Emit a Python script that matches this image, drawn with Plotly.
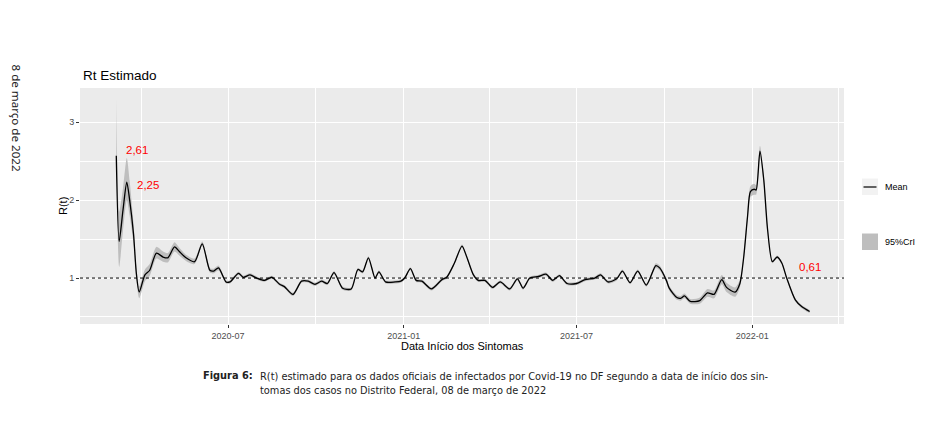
import plotly.graph_objects as go

# ---- data ----
dates = [
    "2020-03-06", "2020-03-09", "2020-03-13", "2020-03-17", "2020-03-20", "2020-03-24",
    "2020-03-27", "2020-03-30", "2020-04-05", "2020-04-10", "2020-04-17", "2020-04-24",
    "2020-04-29", "2020-05-06", "2020-05-11", "2020-05-18", "2020-05-27", "2020-06-04",
    "2020-06-12", "2020-06-16", "2020-06-21", "2020-06-29", "2020-07-03", "2020-07-12",
    "2020-07-17", "2020-07-24", "2020-07-31", "2020-08-08", "2020-08-16", "2020-08-24",
    "2020-08-29", "2020-09-07", "2020-09-16", "2020-09-23", "2020-09-30", "2020-10-07",
    "2020-10-13", "2020-10-20", "2020-10-29", "2020-11-07", "2020-11-14", "2020-11-19",
    "2020-11-25", "2020-12-02", "2020-12-06", "2020-12-13", "2020-12-23", "2020-12-29",
    "2021-01-02", "2021-01-08", "2021-01-14", "2021-01-20", "2021-01-30", "2021-02-10",
    "2021-02-15", "2021-02-23", "2021-03-03", "2021-03-08", "2021-03-15", "2021-03-20",
    "2021-03-27", "2021-04-04", "2021-04-12", "2021-04-22", "2021-04-30", "2021-05-06",
    "2021-05-13", "2021-05-22", "2021-05-30", "2021-06-06", "2021-06-13", "2021-06-21",
    "2021-07-01", "2021-07-10", "2021-07-20", "2021-07-26", "2021-08-03", "2021-08-12",
    "2021-08-18", "2021-08-26", "2021-09-03", "2021-09-12", "2021-09-22", "2021-09-26",
    "2021-10-03", "2021-10-06", "2021-10-14", "2021-10-18", "2021-10-22", "2021-10-28",
    "2021-11-07", "2021-11-15", "2021-11-22", "2021-11-30", "2021-12-05", "2021-12-14",
    "2021-12-19", "2021-12-23", "2021-12-27", "2021-12-30", "2022-01-03", "2022-01-05",
    "2022-01-09", "2022-01-13", "2022-01-17", "2022-01-22", "2022-01-27", "2022-02-01",
    "2022-02-06", "2022-02-15", "2022-02-22", "2022-03-02",
]
rt_mean = [
    2.57, 1.47, 1.87, 2.23, 2.00, 1.57,
    1.06, 0.82, 1.04, 1.10, 1.32, 1.27,
    1.26, 1.40, 1.34, 1.26, 1.21, 1.44,
    1.10, 1.09, 1.13, 0.95, 0.95, 1.06,
    1.01, 1.04, 1.00, 0.97, 1.01, 0.92,
    0.89, 0.79, 0.96, 0.96, 0.92, 0.96,
    0.93, 1.07, 0.87, 0.86, 1.11, 1.08,
    1.26, 1.00, 1.08, 0.95, 0.95, 0.96,
    1.00, 1.12, 0.97, 0.96, 0.86, 0.98,
    1.01, 1.19, 1.41, 1.27, 1.04, 0.97,
    0.97, 0.88, 0.95, 0.86, 0.99, 0.87,
    1.00, 1.02, 1.05, 0.97, 1.03, 0.93,
    0.93, 0.98, 1.00, 1.04, 0.95, 0.99,
    1.09, 0.94, 1.09, 0.91, 1.16, 1.13,
    0.97, 0.87, 0.75, 0.74, 0.77, 0.70,
    0.71, 0.81, 0.79, 0.98, 0.88, 0.82,
    0.93, 1.27, 1.79, 2.11, 2.14, 2.13,
    2.63, 2.26, 1.62, 1.21, 1.27, 1.19,
    1.00, 0.72, 0.63, 0.57,
]
ci_lower = [
    2.50, 1.14, 1.60, 2.00, 1.80, 1.45,
    0.98, 0.74, 0.96, 1.03, 1.25, 1.21,
    1.20, 1.34, 1.29, 1.22, 1.18, 1.41,
    1.07, 1.06, 1.10, 0.93, 0.93, 1.04,
    0.99, 1.02, 0.98, 0.95, 0.99, 0.90,
    0.87, 0.77, 0.94, 0.94, 0.90, 0.94,
    0.91, 1.05, 0.85, 0.84, 1.09, 1.06,
    1.24, 0.98, 1.06, 0.93, 0.93, 0.94,
    0.98, 1.10, 0.95, 0.94, 0.84, 0.96,
    0.99, 1.17, 1.39, 1.25, 1.02, 0.95,
    0.95, 0.86, 0.93, 0.84, 0.97, 0.85,
    0.98, 1.00, 1.03, 0.95, 1.01, 0.91,
    0.91, 0.96, 0.98, 1.02, 0.93, 0.97,
    1.07, 0.92, 1.07, 0.89, 1.13, 1.10,
    0.94, 0.84, 0.72, 0.71, 0.74, 0.67,
    0.67, 0.76, 0.74, 0.92, 0.82, 0.76,
    0.88, 1.23, 1.73, 2.04, 2.07, 2.07,
    2.56, 2.21, 1.59, 1.19, 1.25, 1.17,
    0.98, 0.70, 0.61, 0.55,
]
ci_upper = [
    3.30, 1.85, 2.15, 2.54, 2.25, 1.72,
    1.14, 0.89, 1.11, 1.18, 1.40, 1.34,
    1.32, 1.46, 1.39, 1.30, 1.25, 1.47,
    1.13, 1.12, 1.16, 0.97, 0.97, 1.08,
    1.03, 1.06, 1.02, 0.99, 1.03, 0.94,
    0.91, 0.81, 0.98, 0.98, 0.94, 0.98,
    0.95, 1.09, 0.89, 0.88, 1.13, 1.10,
    1.28, 1.02, 1.10, 0.97, 0.97, 0.98,
    1.02, 1.14, 0.99, 0.98, 0.88, 1.00,
    1.03, 1.21, 1.43, 1.29, 1.06, 0.99,
    0.99, 0.90, 0.97, 0.88, 1.01, 0.89,
    1.02, 1.04, 1.07, 0.99, 1.05, 0.95,
    0.95, 1.00, 1.02, 1.06, 0.97, 1.01,
    1.11, 0.96, 1.11, 0.93, 1.19, 1.16,
    1.00, 0.90, 0.78, 0.77, 0.80, 0.73,
    0.75, 0.86, 0.84, 1.04, 0.94, 0.88,
    0.98, 1.31, 1.85, 2.18, 2.21, 2.19,
    2.70, 2.31, 1.65, 1.23, 1.29, 1.21,
    1.02, 0.74, 0.65, 0.59,
]

value_labels = ["2,61", "2,25", "0,61"]
label_dates = ["2020-03-28", "2020-04-08", "2022-03-02"]
label_values = [2.64, 2.19, 1.14]

x_tick_vals = ["2020-07-01", "2021-01-01", "2021-07-01", "2022-01-01"]
x_tick_text = ["2020-07", "2021-01", "2021-07", "2022-01"]
x_minor_vals = ["2020-04-01", "2020-10-01", "2021-04-01", "2021-10-01", "2022-04-01"]
y_tick_vals = [1, 2, 3]
y_minor_vals = [0.5, 1.5, 2.5]

BAND = "#BEBEBE"
SANS = "Liberation Sans, Arial, sans-serif"

fig = go.Figure()
fig.add_trace(go.Scatter(
    x=dates, y=ci_upper, mode="lines", line=dict(width=0, shape="spline", smoothing=0.7),
    showlegend=False, hoverinfo="skip"))
fig.add_trace(go.Scatter(
    x=dates, y=ci_lower, mode="lines", line=dict(width=0, shape="spline", smoothing=0.7),
    fill="tonexty", fillcolor=BAND, name="95%CrI", showlegend=False, hoverinfo="skip"))
fig.add_trace(go.Scatter(
    x=dates, y=rt_mean, mode="lines",
    line=dict(color="black", width=1.3, shape="spline", smoothing=0.7),
    name="Mean", showlegend=False))

fig.add_hline(y=1, line=dict(color="black", width=1, dash="dot"))

for txt, d, v in zip(value_labels, label_dates, label_values):
    fig.add_annotation(x=d, y=v, xref="x", yref="y", text=txt, showarrow=False,
                       font=dict(family=SANS, size=11.5, color="#FF0000"))

W, H = 925, 422
L, R, T, B = 80, 81, 88, 98
pw, ph = W - L - R, H - T - B


def px(xpix):
    return (xpix - L) / pw


def py(ypix):
    return (H - B - ypix) / ph


# title
fig.add_annotation(x=px(81), y=py(76), xref="paper", yref="paper", text="Rt Estimado",
                   showarrow=False, xanchor="left", yanchor="middle",
                   font=dict(family=SANS, size=13.5, color="black"))
# axis titles
fig.add_annotation(x=px(63), y=py(206), xref="paper", yref="paper", text="R(t)",
                   showarrow=False, textangle=-90, xanchor="center", yanchor="middle",
                   font=dict(family=SANS, size=11, color="black"))
fig.add_annotation(x=px(462), y=py(346), xref="paper", yref="paper",
                   text="Data Início dos Sintomas", showarrow=False,
                   xanchor="center", yanchor="middle",
                   font=dict(family=SANS, size=11, color="black"))

# legend drawn ggplot-style
fig.add_shape(type="rect", xref="paper", yref="paper", x0=px(862), x1=px(878),
              y0=py(195), y1=py(178.5), fillcolor="#F2F2F2", line=dict(width=0))
fig.add_shape(type="line", xref="paper", yref="paper", x0=px(863.5), x1=px(876.5),
              y0=py(187), y1=py(187), line=dict(color="black", width=1.2))
fig.add_shape(type="rect", xref="paper", yref="paper", x0=px(862), x1=px(878),
              y0=py(250), y1=py(233.5), fillcolor=BAND, line=dict(width=0))
fig.add_annotation(x=px(883), y=py(187), xref="paper", yref="paper", text="Mean",
                   showarrow=False, xanchor="left", yanchor="middle",
                   font=dict(family=SANS, size=9, color="black"))
fig.add_annotation(x=px(883), y=py(242), xref="paper", yref="paper", text="95%CrI",
                   showarrow=False, xanchor="left", yanchor="middle",
                   font=dict(family=SANS, size=9, color="black"))

# page text
fig.add_annotation(x=px(16.5), y=py(118), xref="paper", yref="paper",
                   text="8 de março de 2022", showarrow=False, textangle=90,
                   xanchor="center", yanchor="middle",
                   font=dict(family="Noto Sans, sans-serif", size=11.6, color="#222222"))
CAP = "Liberation Sans Narrow, DejaVu Sans Condensed, Noto Sans, sans-serif"
fig.add_annotation(x=px(255), y=py(375), xref="paper", yref="paper",
                   text="<b>Figura 6:</b>", showarrow=False, xanchor="right", yanchor="middle",
                   font=dict(family=CAP, size=10.9, color="#222222"))
fig.add_annotation(x=px(258), y=py(383), xref="paper", yref="paper",
                   text=("R(t) estimado para os dados oficiais de infectados por Covid-19 no DF "
                         "segundo a data de início dos sin-<br>tomas dos casos no Distrito "
                         "Federal, 08 de março de 2022"),
                   showarrow=False, xanchor="left", yanchor="middle", align="left",
                   font=dict(family=CAP, size=10.9, color="#222222"))

fig.update_layout(
    width=W, height=H, margin=dict(l=L, r=R, t=T, b=B),
    paper_bgcolor="white", plot_bgcolor="#EBEBEB",
    showlegend=False,
    xaxis=dict(
        type="date", range=["2020-01-28", "2022-04-07"],
        tickvals=x_tick_vals, ticktext=x_tick_text,
        ticks="outside", ticklen=3, tickcolor="#333333", tickwidth=1,
        tickfont=dict(family=SANS, size=9, color="#4D4D4D"),
        showgrid=True, gridcolor="white", gridwidth=1.1,
        minor=dict(tickvals=x_minor_vals, showgrid=True, gridcolor="white", gridwidth=0.55, ticks=""),
        zeroline=False, showline=False,
    ),
    yaxis=dict(
        range=[0.41, 3.44],
        tickvals=y_tick_vals, ticktext=[str(v) for v in y_tick_vals],
        ticks="outside", ticklen=3, tickcolor="#333333", tickwidth=1,
        tickfont=dict(family=SANS, size=9, color="#4D4D4D"),
        showgrid=True, gridcolor="white", gridwidth=1.1,
        minor=dict(tickvals=y_minor_vals, showgrid=True, gridcolor="white", gridwidth=0.55, ticks=""),
        zeroline=False, showline=False,
    ),
)

fig.write_html("out.html")
